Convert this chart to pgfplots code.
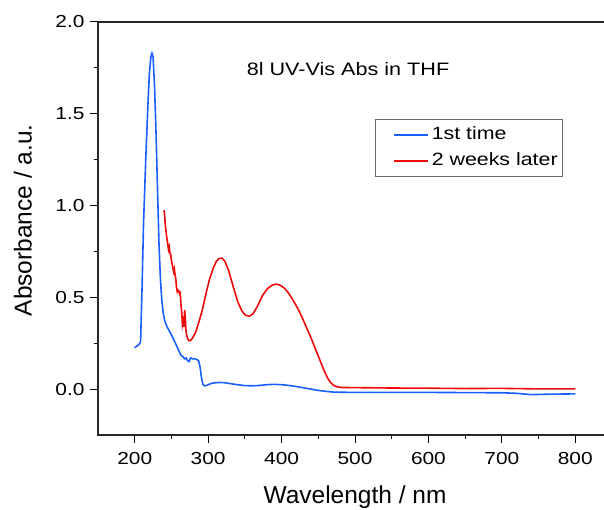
\documentclass[border=0pt]{standalone}
\usepackage{fontspec}
\setmainfont[FakeStretch=1.2]{Liberation Sans}
\newfontfamily\labfont{Liberation Sans}
\usepackage{pgfplots}
\pgfplotsset{compat=1.18}

\definecolor{firstblue}{RGB}{25,95,255}
\definecolor{laterred}{RGB}{240,10,10}

\begin{document}
\begin{tikzpicture}
\begin{axis}[
scale only axis,
width=514pt,
height=413pt,
xmin=150, xmax=850,
ymin=-0.25, ymax=2.0,
xtick={200,300,...,800},
ytick={0,0.5,...,2.0},
minor x tick num=1,
minor y tick num=1,
tick pos=left,
tick align=outside,
major tick length=8pt,
minor tick length=4pt,
every tick/.style={black, line width=1pt},
axis line style={line width=1.2pt, black!85},
/pgf/number format/assume math mode=true,
ticklabel style={font=\fontsize{17.4}{20}\selectfont},
xticklabel style={yshift=-6pt},
yticklabel style={xshift=-2pt, /pgf/number format/fixed,
  /pgf/number format/fixed zerofill, /pgf/number format/precision=1},
xlabel={Wavelength / nm},
ylabel={Absorbance / a.u.},
label style={font=\labfont\fontsize{24.5}{28}\selectfont},
xlabel style={at={(axis description cs:0.5,-0.150)}, anchor=center},
ylabel style={at={(axis description cs:-0.146,0.52)}, anchor=center},
legend cell align=left,
legend style={at={(axis cs:527,1.473)}, anchor=north west,
  font=\fontsize{17.8}{20}\selectfont, draw=black!60, line width=0.8pt,
  inner xsep=2pt, inner ysep=4.5pt, row sep=2.7pt,
  nodes={inner sep=3pt, text height=13pt, text depth=4pt}},
legend image code/.code={\path (0pt,0pt); \draw[#1, line width=1.6pt] (16pt,0pt) -- (50pt,0pt);},
]
\addplot[firstblue, line width=1.6pt] coordinates {
(200,0.225)(203,0.235)(205,0.24)(207,0.25)(208,0.26)(210,0.55)(212,0.9)
(215,1.25)(218,1.55)(220,1.72)(222,1.81)(223.5,1.83)(225,1.81)(227,1.65)
(229,1.4)(231,1.1)(233,0.8)(235,0.6)(237,0.48)(239,0.41)(241,0.37)
(244,0.34)(248,0.31)(252,0.28)(256,0.245)(260,0.21)(263,0.185)(266,0.175)
(268,0.165)(270,0.17)(272,0.155)(274,0.15)(276,0.17)(279,0.165)(282,0.165)
(285,0.16)(287,0.155)(289,0.12)(291,0.06)(293,0.025)(295,0.018)(298,0.02)
(302,0.028)(308,0.034)(315,0.036)(322,0.035)(330,0.03)(340,0.024)(350,0.019)
(360,0.018)(370,0.02)(380,0.024)(390,0.026)(400,0.024)(410,0.02)(420,0.014)
(430,0.007)(440,0.0)(450,-0.007)(460,-0.012)(470,-0.016)(480,-0.017)
(500,-0.018)(550,-0.018)(600,-0.018)(650,-0.019)(700,-0.02)(720,-0.023)
(740,-0.03)(760,-0.028)(780,-0.027)(800,-0.026)
};
\addlegendentry{1st time}

\addplot[laterred, line width=1.6pt] coordinates {
(240,0.975)(241,0.93)(242,0.88)(243.5,0.83)(245,0.79)(246,0.76)(247,0.775)
(248,0.74)(249,0.735)(250,0.70)(252,0.66)(253,0.64)(254,0.655)(255,0.62)
(256,0.6)(257,0.55)(258,0.53)(259,0.54)(260,0.535)(261,0.52)(262,0.525)
(263,0.46)(264,0.42)(265,0.35)(266,0.37)(267,0.34)(268,0.43)(269,0.38)
(269.5,0.335)(270,0.31)(271,0.29)(272,0.275)(274,0.263)(276,0.265)(279,0.28)
(283,0.31)(287,0.36)(292,0.43)(297,0.52)(302,0.6)(307,0.66)(311,0.695)
(315,0.712)(319,0.713)(323,0.695)(328,0.645)(334,0.56)(340,0.48)(346,0.425)
(351,0.402)(356,0.397)(361,0.41)(367,0.45)(374,0.51)(381,0.548)(387,0.566)
(393,0.572)(398,0.566)(404,0.55)(410,0.52)(416,0.482)(422,0.44)(428,0.39)
(434,0.335)(440,0.28)(446,0.22)(452,0.16)(458,0.1)(463,0.058)(467,0.035)
(471,0.02)(476,0.012)(482,0.009)(500,0.008)(550,0.006)(600,0.005)(650,0.003)
(700,0.004)(750,0.001)(800,0.001)
};
\addlegendentry{2 weeks later}

\node[font=\fontsize{18}{21}\selectfont] at (axis cs:490.5,1.746) {8l UV-Vis Abs in THF};
\end{axis}
\pgfresetboundingbox
\useasboundingbox (-98pt,-75pt) rectangle (506pt,435pt);
\end{tikzpicture}
\end{document}
